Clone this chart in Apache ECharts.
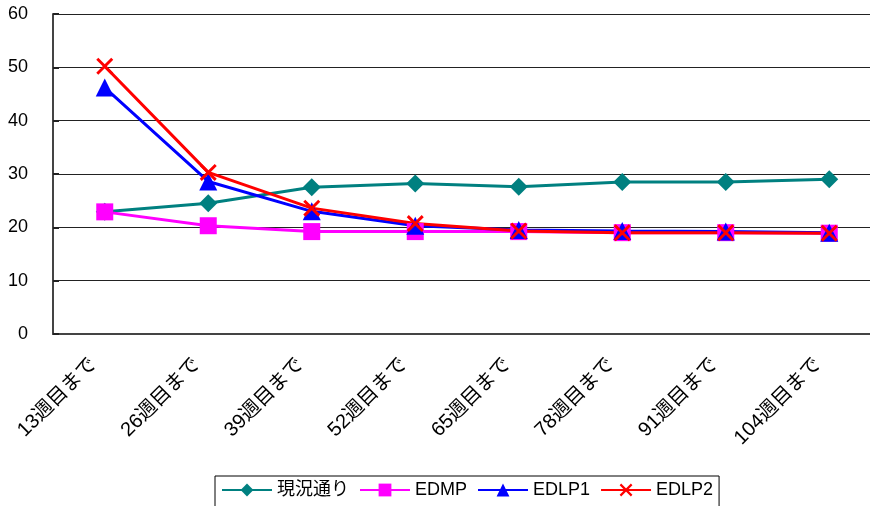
<!DOCTYPE html>
<html>
<head>
<meta charset="utf-8">
<script src="https://cdn.jsdelivr.net/npm/echarts@6/dist/echarts.min.js"></script>
<style>
  html, body { margin: 0; padding: 0; background: #fff; }
  #chart { width: 870px; height: 506px; }
</style>
</head>
<body>
<div id="chart"></div>
<script>
// Weeks elapsed (category axis)
const categories = ['13週目まで', '26週目まで', '39週目まで', '52週目まで', '65週目まで', '78週目まで', '91週目まで', '104週目まで'];
// Series values per period
const seriesNames = ['現況通り', 'EDMP', 'EDLP1', 'EDLP2'];
const genkyo = [22.9, 24.5, 27.5, 28.2, 27.6, 28.5, 28.5, 29.0];
const edmp   = [22.9, 20.3, 19.2, 19.2, 19.2, 19.0, 19.0, 18.9];
const edlp1  = [46.2, 28.6, 23.0, 20.3, 19.5, 19.3, 19.2, 19.0];
const edlp2  = [50.2, 30.3, 23.6, 20.7, 19.3, 19.0, 19.0, 18.9];
// Value axis
const yMin = 0, yMax = 60, yStep = 10;

const FONT = '"Liberation Sans", Arial, "Noto Sans CJK JP", sans-serif';
const crossPath = 'path://M0,1.2L1.2,0L10,8.8L8.8,10ZM8.8,0L10,1.2L1.2,10L0,8.8Z';

function lineSeries(name, data, color, symbol, size) {
  return {
    name, type: 'line', data,
    symbol, symbolSize: size,
    lineStyle: { color, width: 3 },
    itemStyle: { color },
    emphasis: { disabled: true },
    animation: false
  };
}

const chart = echarts.init(document.getElementById('chart'));
chart.setOption({
  animation: false,
  textStyle: { fontFamily: FONT },
  // plot area runs slightly past the right edge of the canvas
  grid: { left: 53, top: 14, width: 828, bottom: 172, containLabel: false, outerBoundsMode: 'none' },
  xAxis: {
    type: 'category',
    data: categories,
    boundaryGap: true,
    axisLine: { lineStyle: { color: '#444', width: 2 } },
    axisTick: { inside: true, length: 6, lineStyle: { color: '#222', width: 1 } },
    axisLabel: { rotate: 45, fontSize: 20, color: '#000', margin: 16, padding: [0, 16, 0, 0], fontFamily: FONT }
  },
  yAxis: {
    type: 'value',
    min: yMin, max: yMax, interval: yStep,
    axisLine: { show: true, lineStyle: { color: '#444', width: 2 } },
    axisTick: { show: true, inside: true, length: 6, lineStyle: { color: '#222', width: 2 } },
    axisLabel: { fontSize: 18, color: '#000', margin: 25, fontFamily: FONT },
    splitLine: { lineStyle: { color: '#222', width: 1 } }
  },
  legend: {
    left: 215, top: 476,
    orient: 'horizontal',
    itemWidth: 50, itemHeight: 16, itemGap: 10,
    padding: [5, 6, 10, 6],
    borderColor: '#000', borderWidth: 1,
    textStyle: { fontSize: 18, color: '#000', fontFamily: FONT },
    data: seriesNames
  },
  series: [
    lineSeries(seriesNames[0], genkyo, '#008080', 'diamond', 18),
    lineSeries(seriesNames[1], edmp, '#FF00FF', 'rect', 17),
    lineSeries(seriesNames[2], edlp1, '#0000FF', 'triangle', 18),
    lineSeries(seriesNames[3], edlp2, '#FF0000', crossPath, 17)
  ]
});
</script>
</body>
</html>
